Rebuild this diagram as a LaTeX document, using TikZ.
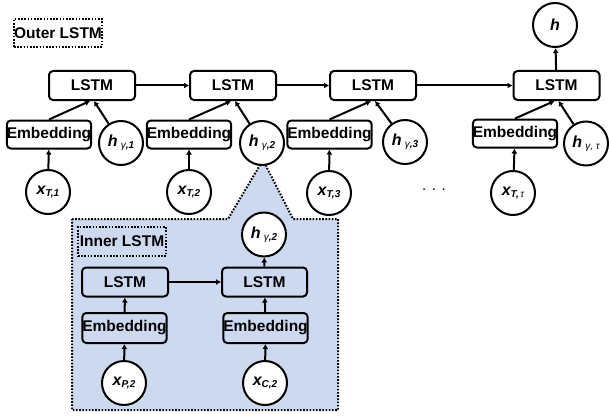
\documentclass[tikz,border=0pt]{standalone}
\usepackage{fontspec}
\setmainfont{Liberation Sans}
\usetikzlibrary{arrows.meta,calc}
\definecolor{panelblue}{RGB}{205,217,239}

% label of a circle: bold italic letter with a small subscript
\newcommand{\vlab}[2]{{\fontsize{16}{16}\selectfont\bfseries\itshape #1}\raisebox{-0.45ex}{\fontsize{10}{10}\selectfont\bfseries\itshape #2}}
% thin italic gamma/tau used in the subscripts
\newcommand{\gsub}[1]{\normalfont\itshape\fontsize{10}{10}\selectfont #1}

\begin{document}
\begin{tikzpicture}[x=1pt,y=-1pt,
  box/.style={draw,line width=2pt,rounded corners=4pt,font=\fontsize{15.5}{15.5}\selectfont\bfseries,inner sep=0pt},
  lstmbox/.style={box,minimum width=86pt,minimum height=29pt},
  embbox/.style={box,minimum width=84pt,minimum height=28pt},
  var/.style={draw,circle,line width=2pt,minimum size=44pt,inner sep=0pt,fill=white},
  tag/.style={draw,line width=2pt,dash pattern=on 1.6pt off 1.6pt,font=\fontsize{15.5}{15.5}\selectfont\bfseries,inner sep=0pt,minimum height=28pt},
  arr/.style={line width=2pt,-{Latex[length=5pt,width=6pt]}}
]
\useasboundingbox (0,0) rectangle (609,417);

% inner LSTM panel with its callout pointing at h_{gamma,2}
\path[fill=panelblue,draw,line width=2pt,dash pattern=on 1.6pt off 1.6pt]
  (72,219) -- (228,219) -- (263,160) -- (293,219) -- (338,219) -- (338,410) -- (72,410) -- cycle;

% outer LSTM
\node[tag,minimum width=88pt] (outertag) at (58,33) {Outer LSTM};

\node[lstmbox] (L1) at (92,85.5) {LSTM};
\node[lstmbox] (L2) at (233,85.5) {LSTM};
\node[lstmbox] (L3) at (373,85.5) {LSTM};
\node[lstmbox] (L4) at (556.5,85.5) {LSTM};

\node[embbox] (E1) at (49,134.5) {Embedding};
\node[embbox] (E2) at (189,134.5) {Embedding};
\node[embbox] (E3) at (329.5,134.5) {Embedding};
\node[embbox] (E4) at (515,133.5) {Embedding};

\node[var] (H1) at (121,143) {\vlab{h}{\,\,\gsub{γ}\bfseries,1}};
\node[var] (H2) at (262,143) {\vlab{h}{\,\,\gsub{γ}\bfseries,2}};
\node[var] (H3) at (405,142) {\vlab{h}{\,\,\gsub{γ}\bfseries,3}};
\node[var] (H4) at (586,143.5) {\vlab{h}{\,\,\gsub{γ, τ}}};

\node[var] (X1) at (48,192) {\vlab{x}{T,1}};
\node[var] (X2) at (189,192) {\vlab{x}{T,2}};
\node[var] (X3) at (329,193) {\vlab{x}{T,3}};
\node[var] (X4) at (513,193) {\vlab{x}{T,\,\gsub{τ}}};

\node[var] (H) at (555,25) {\fontsize{16}{16}\selectfont\bfseries\itshape h};

\node[font=\fontsize{15}{15}\selectfont] (dots) at (434,190) {. . .};

\foreach \i in {1,2,3,4} {
  \draw[arr] (X\i) -- (E\i);
  \draw[arr] (E\i.north) -- ($(L\i.south)+(-2,0)$);
  \draw[arr] (H\i) -- ($(L\i.south)+(2,0)$);
}
\draw[arr] (L1) -- (L2);
\draw[arr] (L2) -- (L3);
\draw[arr] (L3) -- (L4);
\draw[arr] (L4) -- (H);

% inner LSTM
\node[tag,minimum width=88pt,minimum height=29pt] (innertag) at (122,241.5) {Inner LSTM};

\node[lstmbox] (IL1) at (125,282) {LSTM};
\node[lstmbox,minimum width=85pt] (IL2) at (264.5,282) {LSTM};
\node[embbox,minimum width=83pt,minimum height=30pt] (IE1) at (124.5,328) {Embedding};
\node[embbox,minimum width=83pt,minimum height=30pt] (IE2) at (265.5,328) {Embedding};

\node[var] (IX1) at (124,383) {\vlab{x}{P,2}};
\node[var] (IX2) at (265,383) {\vlab{x}{C,2}};
\node[var] (IH) at (264,234.5) {\vlab{h}{\,\,\gsub{γ}\bfseries,2}};

\draw[arr] (IX1) -- (IE1);
\draw[arr] (IX2) -- (IE2);
\draw[arr] (IE1) -- (IL1);
\draw[arr] (IE2) -- (IL2);
\draw[arr] (IL1) -- (IL2);
\draw[arr] (IL2) -- (IH);
\end{tikzpicture}
\end{document}
